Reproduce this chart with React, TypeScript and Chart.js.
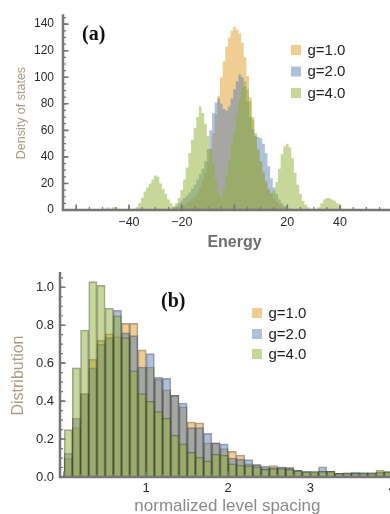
import React, { useEffect, useRef } from 'react';
import { Chart, registerables } from 'chart.js';

Chart.register(...registerables);
Chart.defaults.font.family = "'Liberation Sans', Arial, sans-serif";

const seriesLabels = ['g=1.0', 'g=2.0', 'g=4.0'];
const fillColors = ['rgba(225,156,36,0.5)', 'rgba(94,129,181,0.5)', 'rgba(143,176,50,0.5)'];

// ---------- Panel (a): density of states (1-unit energy bins, centres) ----------
const energyA = [
  -50, -49, -48, -47, -46, -45, -44, -43, -42, -41,
  -40, -39, -38, -37, -36, -35, -34, -33, -32, -31,
  -30, -29, -28, -27, -26, -25, -24, -23, -22, -21,
  -20, -19, -18, -17, -16, -15, -14, -13, -12, -11,
  -10, -9, -8, -7, -6, -5, -4, -3, -2, -1,
  0, 1, 2, 3, 4, 5, 6, 7, 8, 9,
  10, 11, 12, 13, 14, 15, 16, 17, 18, 19,
  20, 21, 22, 23, 24, 25, 26, 27, 28, 29,
  30, 31, 32, 33, 34, 35, 36, 37, 38, 39,
  40, 41, 42, 43, 44, 45,
];
const dosG1 = [
  0, 0, 0, 0, 0, 0, 0, 0, 0, 0,
  0, 0, 0, 0, 0, 0, 0, 0, 0, 0,
  0, 0, 0, 0, 0, 0, 1, 1, 2, 2,
  3, 4, 5, 6, 8, 10, 13, 17, 22, 28,
  36, 46, 58, 72, 86, 100, 112, 123, 130, 135,
  138, 136, 133, 126, 115, 101, 85, 68, 55, 45,
  37, 29, 22, 16, 12, 8, 6, 4, 3, 2,
  1, 1, 0, 0, 0, 0, 0, 0, 0, 0,
  0, 0, 0, 0, 0, 0, 0, 0, 0, 0,
  0, 0, 0, 0, 0, 0,
];
const dosG2 = [
  0, 0, 0, 0, 0, 0, 0, 0, 0, 0,
  0, 0, 0, 0, 0, 0, 0, 0, 0, 0,
  0, 0, 0, 0, 0, 1, 1, 2, 3, 5,
  7, 9, 11, 13, 16, 19, 23, 27, 31, 37,
  46, 60, 73, 81, 84, 80, 76, 75, 78, 84,
  91, 97, 102, 100, 93, 82, 70, 61, 56, 55,
  54, 50, 43, 33, 24, 17, 12, 8, 5, 3,
  2, 1, 0, 0, 0, 0, 0, 0, 0, 0,
  0, 0, 0, 0, 0, 0, 0, 0, 0, 0,
  0, 0, 0, 0, 0, 0,
];
const dosG4 = [
  0, 1, 2, 1, 2, 2, 1, 0, 0, 0,
  0, 0, 1, 2, 5, 9, 14, 17, 20, 23,
  26, 25, 20, 16, 12, 8, 5, 3, 5, 9,
  15, 23, 32, 43, 53, 62, 70, 78, 73, 65,
  56, 46, 35, 23, 13, 10, 16, 26, 37, 49,
  60, 72, 83, 92, 97, 91, 82, 70, 58, 46,
  36, 27, 20, 15, 13, 15, 21, 31, 42, 48,
  50, 47, 39, 28, 19, 12, 7, 4, 2, 1,
  0, 1, 2, 5, 8, 9, 9, 8, 7, 5,
  3, 1, 0, 0, 0, 0,
];
const energyTickLabels = [-40, -20, 20, 40];
const energyMajorTicks = [-60, -40, -20, 0, 20, 40, 60];
const dosTickLabels = [0, 20, 40, 60, 80, 100, 120, 140];

// ---------- Panel (b): level spacing distribution (bins of width 0.1) ----------
const spacingBins = [
  0.05, 0.15, 0.25, 0.35, 0.45, 0.55, 0.65, 0.75, 0.85, 0.95,
  1.05, 1.15, 1.25, 1.35, 1.45, 1.55, 1.65, 1.75, 1.85, 1.95,
  2.05, 2.15, 2.25, 2.35, 2.45, 2.55, 2.65, 2.75, 2.85, 2.95,
  3.05, 3.15, 3.25, 3.35, 3.45, 3.55, 3.65, 3.75, 3.85, 3.95,
];
const distG1 = [
  0.10, 0.26, 0.44, 0.62, 0.72, 0.755, 0.74, 0.81, 0.81, 0.67,
  0.58, 0.515, 0.46, 0.43, 0.37, 0.29, 0.285, 0.18, 0.18, 0.15,
  0.135, 0.115, 0.07, 0.065, 0.05, 0.06, 0.05, 0.05, 0.035, 0.028,
  0.026, 0.03, 0.03, 0.02, 0.02, 0.02, 0.022, 0.022, 0.026, 0.026,
];
const distG2 = [
  0.125, 0.31, 0.44, 0.575, 0.70, 0.735, 0.88, 0.76, 0.745, 0.58,
  0.65, 0.525, 0.52, 0.43, 0.39, 0.26, 0.26, 0.23, 0.18, 0.175,
  0.10, 0.094, 0.092, 0.066, 0.058, 0.05, 0.054, 0.05, 0.037, 0.028,
  0.026, 0.054, 0.031, 0.02, 0.022, 0.026, 0.022, 0.022, 0.026, 0.028,
];
const distG4 = [
  0.25, 0.575, 0.775, 1.03, 1.01, 0.89, 0.85, 0.735, 0.56, 0.44,
  0.40, 0.345, 0.31, 0.22, 0.175, 0.13, 0.105, 0.085, 0.12, 0.115,
  0.07, 0.063, 0.06, 0.054, 0.04, 0.044, 0.044, 0.04, 0.033, 0.028,
  0.031, 0.03, 0.031, 0.02, 0.022, 0.02, 0.022, 0.022, 0.036, 0.028,
];
const spacingTickLabels = [1, 2, 3, 4];
const distTickLabels = [0, 0.2, 0.4, 0.6, 0.8, 1.0];

const AXIS_COLOR = '#767676';
const TICK_TEXT = '#2b2b2b';
const TITLE_TAN = '#b09a84';

function stepList(from: number, to: number, step: number) {
  const out: number[] = [];
  for (let v = from; v <= to + 1e-9; v += step) out.push(Math.round(v * 1000) / 1000);
  return out;
}

function framePlugin(xMajor: number[], xMinor: number[], yMajor: number[], yMinor: number[]) {
  return {
    id: 'frameAxes',
    afterDatasetsDraw(chart: any) {
      const { ctx, chartArea } = chart;
      const xs = chart.scales.x;
      const ys = chart.scales.y;
      ctx.save();
      ctx.strokeStyle = AXIS_COLOR;
      ctx.lineWidth = 1.2;
      ctx.beginPath();
      yMinor.forEach((v) => {
        const p = ys.getPixelForValue(v);
        ctx.moveTo(chartArea.left, p);
        ctx.lineTo(chartArea.left + 3, p);
      });
      xMinor.forEach((v) => {
        const p = xs.getPixelForValue(v);
        ctx.moveTo(p, chartArea.bottom);
        ctx.lineTo(p, chartArea.bottom - 3);
      });
      ctx.stroke();
      ctx.lineWidth = 1.6;
      ctx.beginPath();
      yMajor.forEach((v) => {
        const p = ys.getPixelForValue(v);
        ctx.moveTo(chartArea.left, p);
        ctx.lineTo(chartArea.left + 5.5, p);
      });
      xMajor.forEach((v) => {
        const p = xs.getPixelForValue(v);
        ctx.moveTo(p, chartArea.bottom);
        ctx.lineTo(p, chartArea.bottom - 5.5);
      });
      ctx.stroke();
      ctx.lineWidth = 2.5;
      ctx.beginPath();
      ctx.moveTo(chartArea.left, chartArea.top - 2);
      ctx.lineTo(chartArea.left, chartArea.bottom + 1.2);
      ctx.moveTo(chartArea.left - 1.2, chartArea.bottom);
      ctx.lineTo(chartArea.right, chartArea.bottom);
      ctx.stroke();
      ctx.restore();
    },
  };
}

function textPlugin(panel: string, panelX: number, panelY: number, legX: number, legY: number[]) {
  return {
    id: 'panelText',
    afterDraw(chart: any) {
      const { ctx } = chart;
      ctx.save();
      ctx.font = "bold 20px 'Liberation Serif', 'Times New Roman', serif";
      ctx.fillStyle = '#111';
      ctx.textBaseline = 'middle';
      ctx.textAlign = 'left';
      ctx.fillText(panel, panelX, panelY);
      ctx.font = "15px 'Liberation Sans', Arial, sans-serif";
      seriesLabels.forEach((lab, i) => {
        ctx.fillStyle = fillColors[i];
        ctx.fillRect(legX, legY[i] - 5, 10, 10);
        ctx.fillStyle = '#222';
        ctx.fillText(lab, legX + 16.5, legY[i] + 0.5);
      });
      ctx.restore();
    },
  };
}

const fmtSigned = (v: number) => (v < 0 ? '\u2212' + Math.abs(v) : String(v));

export default function App() {
  const refA = useRef<HTMLCanvasElement>(null);
  const refB = useRef<HTMLCanvasElement>(null);

  useEffect(() => {
    const seriesA = [dosG1, dosG2, dosG4];
    const chartA = new Chart(refA.current as HTMLCanvasElement, {
      type: 'line',
      data: {
        datasets: seriesA.map((vals, i) => ({
          label: seriesLabels[i],
          data: energyA.map((e, j) => ({ x: e, y: vals[j] })),
          backgroundColor: fillColors[i],
          borderWidth: 0,
          pointRadius: 0,
          fill: 'origin',
          stepped: 'middle',
          order: 3 - i,
        })),
      },
      options: {
        animation: false,
        responsive: false,
        layout: { padding: { top: 10, right: 0, left: 0, bottom: 0 } },
        plugins: { legend: { display: false }, tooltip: { enabled: false } },
        scales: {
          x: {
            type: 'linear',
            min: -65,
            max: 65,
            grid: { display: false, drawTicks: false },
            border: { display: false },
            afterBuildTicks: (s: any) => { s.ticks = energyTickLabels.map((v) => ({ value: v })); },
            ticks: { padding: 5, color: TICK_TEXT, font: { size: 12.5 }, maxRotation: 0, autoSkip: false, callback: (v: any) => fmtSigned(Number(v)) },
            title: { display: true, text: 'Energy', color: '#6e6e6e', font: { size: 16, weight: 'bold' }, padding: { top: 0, bottom: 0 } },
            afterFit: (s: any) => { s.height = 42; },
          },
          y: {
            type: 'linear',
            min: 0,
            max: 146,
            grid: { display: false, drawTicks: false },
            border: { display: false },
            afterBuildTicks: (s: any) => { s.ticks = dosTickLabels.map((v) => ({ value: v })); },
            ticks: { padding: 9, color: TICK_TEXT, font: { size: 12 }, callback: (v: any) => String(v) },
            title: { display: true, text: 'Density of states', color: TITLE_TAN, font: { size: 12.5 }, padding: { top: 14, bottom: 0 } },
            afterFit: (s: any) => { s.width = 63; },
          },
        },
      } as any,
      plugins: [
        framePlugin(energyMajorTicks, stepList(-65, 65, 5), dosTickLabels, stepList(0, 145, 5)),
        textPlugin('(a)', 82, 34.5, 291, [50, 71.5, 93]),
      ],
    });

    const seriesB = [distG1, distG2, distG4];
    const chartB = new Chart(refB.current as HTMLCanvasElement, {
      type: 'bar',
      data: {
        datasets: seriesB.map((vals, i) => ({
          label: seriesLabels[i],
          data: spacingBins.map((s, j) => ({ x: s, y: vals[j] })),
          backgroundColor: fillColors[i],
          borderColor: 'rgba(55,55,55,0.45)',
          borderWidth: 1,
          borderSkipped: 'start',
          barPercentage: 1,
          categoryPercentage: 1,
          grouped: false,
          order: 3 - i,
        })),
      },
      options: {
        animation: false,
        responsive: false,
        layout: { padding: { top: 14, right: 5, left: 0, bottom: 0 } },
        plugins: { legend: { display: false }, tooltip: { enabled: false } },
        scales: {
          x: {
            type: 'linear',
            min: -0.05,
            max: 4.03,
            offset: false,
            grid: { display: false, drawTicks: false, offset: false },
            border: { display: false },
            afterBuildTicks: (s: any) => { s.ticks = spacingTickLabels.map((v) => ({ value: v })); },
            ticks: { padding: 4, color: TICK_TEXT, font: { size: 13 }, maxRotation: 0, autoSkip: false, callback: (v: any) => String(v) },
            title: { display: true, text: 'normalized level spacing', color: '#8a8a8a', font: { size: 17 }, padding: { top: 0, bottom: 3 } },
            afterFit: (s: any) => { s.height = 43; },
          },
          y: {
            type: 'linear',
            min: 0,
            max: 1.07,
            grid: { display: false, drawTicks: false },
            border: { display: false },
            afterBuildTicks: (s: any) => { s.ticks = distTickLabels.map((v) => ({ value: v })); },
            ticks: { padding: 6, color: TICK_TEXT, font: { size: 13 }, callback: (v: any) => Number(v).toFixed(1) },
            title: { display: true, text: 'Distribution', color: TITLE_TAN, font: { size: 16 }, padding: { top: 9, bottom: 0 } },
            afterFit: (s: any) => { s.width = 60; },
          },
        },
      } as any,
      plugins: [
        framePlugin([0, 1, 2, 3, 4], stepList(0, 4, 0.2), distTickLabels, stepList(0, 1.05, 0.05)),
        textPlugin('(b)', 161, 42, 252, [53, 74, 94]),
      ],
    });

    return () => {
      chartA.destroy();
      chartB.destroy();
    };
  }, []);

  return (
    <div style={{ position: 'fixed', left: 0, top: 0, width: 390, height: 514, overflow: 'hidden', background: '#fff' }}>
      <canvas ref={refA} width={406} height={252} style={{ position: 'absolute', left: 0, top: 0, width: 406, height: 252 }} />
      <canvas ref={refB} width={400} height={260} style={{ position: 'absolute', left: 0, top: 260, width: 400, height: 260 }} />
    </div>
  );
}
